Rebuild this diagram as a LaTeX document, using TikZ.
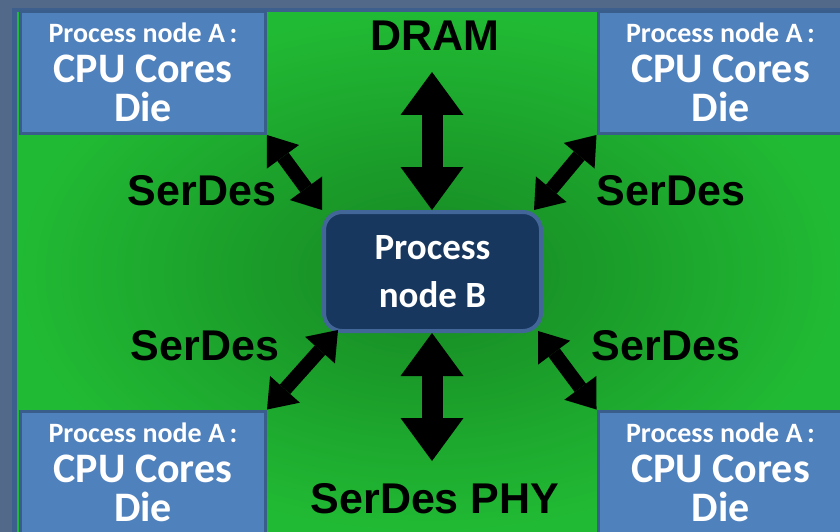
\documentclass[tikz,border=0pt]{standalone}
\usepackage{fontspec}
\usepackage{tikz}
\usetikzlibrary{calc,arrows.meta}
\setmainfont{Carlito}
\newfontfamily\labelfont{Liberation Sans}

\definecolor{slate}{RGB}{82,105,138}
\definecolor{frameblue}{RGB}{60,95,142}
\definecolor{dieblue}{RGB}{79,129,189}
\definecolor{dieedge}{RGB}{58,94,140}
\definecolor{navy}{RGB}{23,55,94}
\definecolor{navyedge}{RGB}{66,102,152}
\definecolor{greenout}{RGB}{33,186,52}
\definecolor{greenin}{RGB}{22,134,34}

\tikzset{
  diebox/.style={draw=dieedge,line width=3pt,fill=dieblue,minimum width=245pt,minimum height=122pt,
    text=white,align=center,inner sep=0pt,font=\bfseries\fontsize{42}{39}\selectfont},
  corebox/.style={draw=navyedge,line width=4pt,fill=navy,rounded corners=18pt,minimum width=217pt,
    minimum height=119pt,text=white,align=center,font=\bfseries\fontsize{37}{48}\selectfont},
  linklabel/.style={anchor=base,inner sep=0pt,font=\labelfont\bfseries\fontsize{43}{43}\selectfont},
  busarrow/.style={line width=21pt,>={Triangle[width=63pt,length=43pt,line width=0pt]},<->},
  lanearrow/.style={line width=14pt,>={Triangle[width=40pt,length=27pt,line width=0pt]},<->}
}

\newcommand{\dietext}{{\fontsize{28}{28}\selectfont Process node A\,:}\\[1pt]CPU Cores\\Die}

\begin{document}
\begin{tikzpicture}[x=1pt,y=-1pt]
  \useasboundingbox (0,0) rectangle (840,532);
  \fill[slate] (0,0) rectangle (840,532);
  \fill[frameblue] (12,8) rectangle (840,532);
  \shade[inner color=greenin,outer color=greenout] (17,13) rectangle (840,532);

  % four CPU dies in the corners
  \node[diebox] (dietl) at (143,72.5) {\dietext};
  \node[diebox] (dietr) at (720.5,72.5) {\dietext};
  \node[diebox] (diebl) at (143,472) {\dietext};
  \node[diebox] (diebr) at (720.5,472) {\dietext};

  % central die
  \node[corebox] (core) at (432.5,271.5) {Process\\node B};

  \coordinate (dramend) at (432,72);
  \coordinate (phyend) at (432,461);
  \draw[busarrow] (dramend) -- (core.north -| dramend);
  \draw[busarrow] (core.south -| phyend) -- (phyend);

  \draw[lanearrow] (dietl.south east) -- (core.north west);
  \draw[lanearrow] (dietr.south west) -- ([xshift=-9pt]core.north east);
  \draw[lanearrow] (diebl.north east) -- ([xshift=16pt,yshift=3pt]core.south west);
  \draw[lanearrow] (diebr.north west) -- ([xshift=-5pt,yshift=2pt]core.south east);

  \node[linklabel] (dram) at (435,51) {DRAM};
  \node[linklabel] (sdtl) at (202,205) {SerDes};
  \node[linklabel] (sdtr) at (671,205) {SerDes};
  \node[linklabel] (sdbl) at (205,360) {SerDes};
  \node[linklabel] (sdbr) at (666,360) {SerDes};
  \node[linklabel] (phy) at (435,513) {SerDes PHY};
\end{tikzpicture}
\end{document}
